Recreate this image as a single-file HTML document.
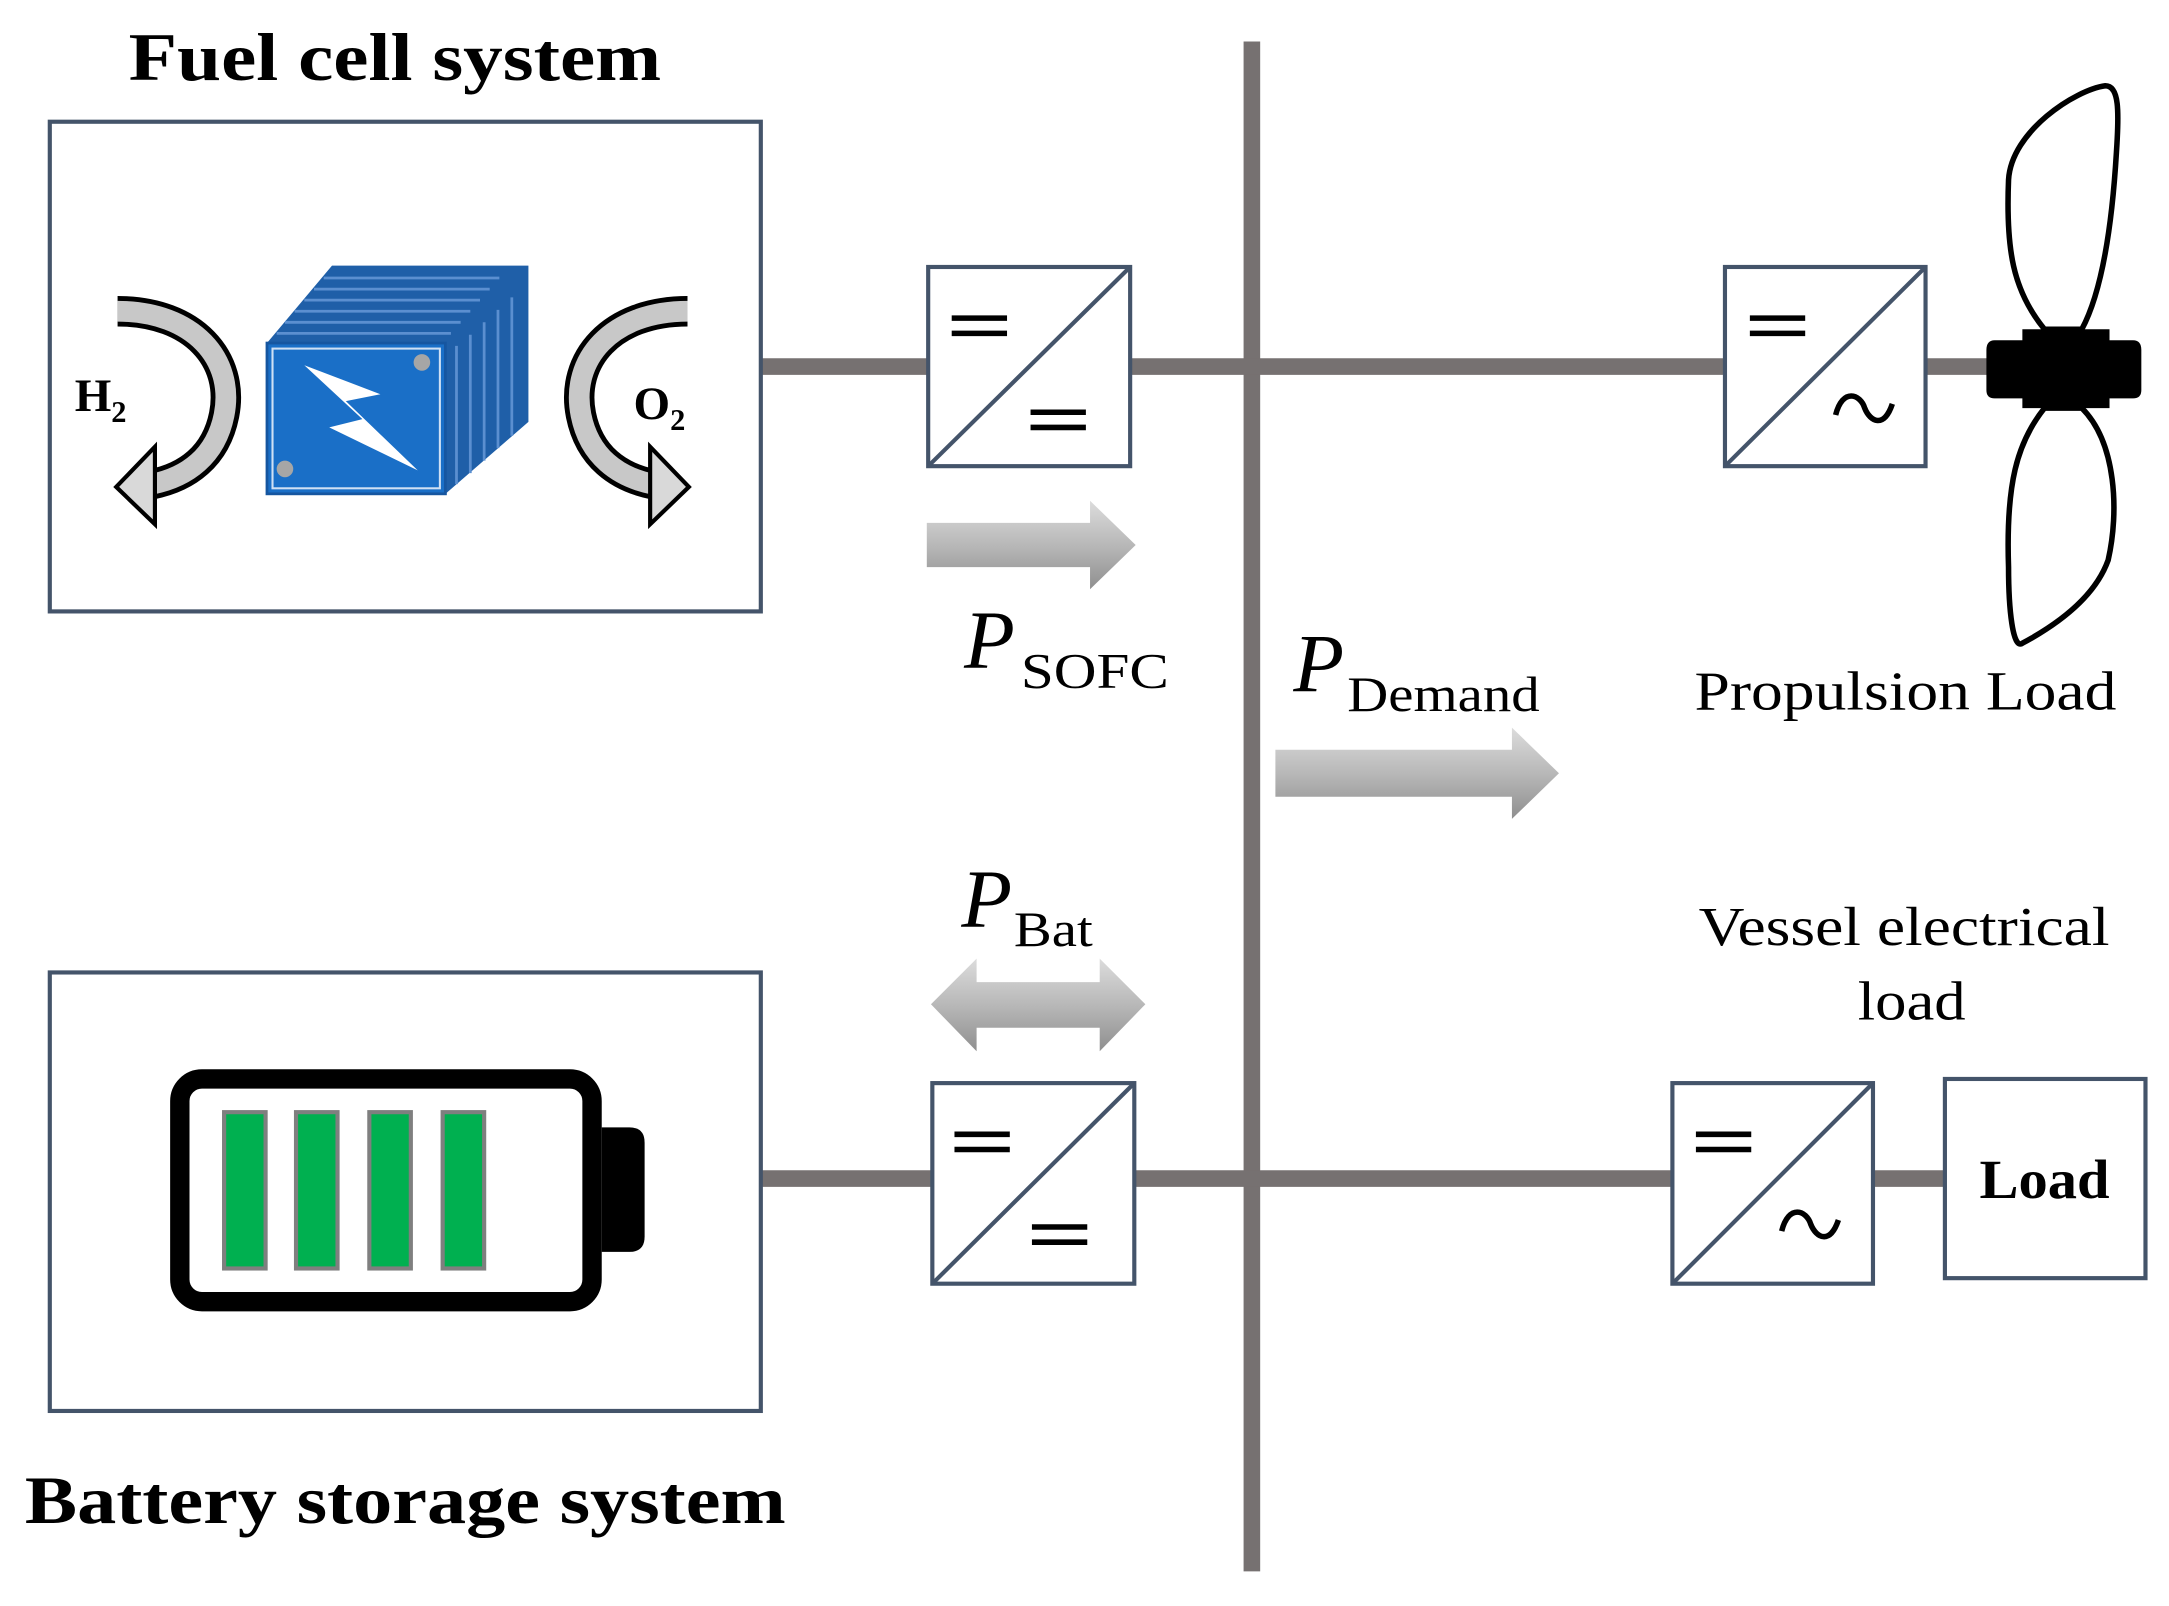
<!DOCTYPE html>
<html><head><meta charset="utf-8"><style>
html,body{margin:0;padding:0;background:#fff;}
svg{display:block;}
text{font-family:"Liberation Serif",serif;}
</style></head><body>
<svg width="2169" height="1606" viewBox="0 0 1568 1161" preserveAspectRatio="none" xmlns="http://www.w3.org/2000/svg">
<defs>
<linearGradient id="ga" x1="0" y1="0" x2="0" y2="1">
<stop offset="0" stop-color="#dcdcdc"/><stop offset="0.5" stop-color="#b8b8b8"/><stop offset="1" stop-color="#8f8f8f"/>
</linearGradient>
</defs>
<g stroke="#767171" stroke-width="12" fill="none">
<line x1="905" y1="30" x2="905" y2="1136"/>
<line x1="550" y1="265" x2="1440" y2="265"/>
<line x1="550" y1="852" x2="1406" y2="852"/>
</g>
<g fill="#fff" stroke="#44546a" stroke-width="3">
<rect x="36" y="88" width="514" height="354"/>
<rect x="36" y="703" width="514" height="317"/>
<rect x="671" y="193" width="146" height="144"/>
<rect x="1247" y="193" width="145" height="144"/>
<rect x="674" y="783" width="146" height="145"/>
<rect x="1209" y="783" width="145" height="145"/>
<rect x="1406" y="780" width="145" height="144"/>
</g>
<g stroke="#44546a" stroke-width="3">
<line x1="671" y1="337" x2="817" y2="193"/>
<line x1="1247" y1="337" x2="1392" y2="193"/>
<line x1="674" y1="928" x2="820" y2="783"/>
<line x1="1209" y1="928" x2="1354" y2="783"/>
</g>
<g stroke="#000" stroke-width="4">
<line x1="688" y1="230" x2="728" y2="230"/><line x1="688" y1="241" x2="728" y2="241"/>
<line x1="745" y1="298" x2="785" y2="298"/><line x1="745" y1="309" x2="785" y2="309"/>
<line x1="1265" y1="230" x2="1305" y2="230"/><line x1="1265" y1="241" x2="1305" y2="241"/>
<line x1="690" y1="820" x2="730" y2="820"/><line x1="690" y1="831" x2="730" y2="831"/>
<line x1="746" y1="887" x2="786" y2="887"/><line x1="746" y1="898" x2="786" y2="898"/>
<line x1="1226" y1="820" x2="1266" y2="820"/><line x1="1226" y1="831" x2="1266" y2="831"/>
</g>
<g stroke="#000" stroke-width="4" fill="none">
<path d="M1327,300 C1332,280 1345,285 1348,295 C1352,305 1362,310 1368,292"/>
<path d="M1288,890 C1293,870 1306,875 1309,885 C1313,895 1323,900 1329,882"/>
</g>
<text x="1431" y="866" font-size="40" font-weight="bold" textLength="94" lengthAdjust="spacingAndGlyphs">Load</text>
<g fill="none" stroke="#000" stroke-width="4">
<path d="M1478,238 C1455,210 1450,180 1452,130 C1454,95 1500,65 1522,62 C1532,62 1532,80 1530,110 C1527,160 1520,210 1505,238 Z"/>
<path d="M1478,295 C1458,320 1450,350 1452,410 C1452,440 1455,470 1462,465 C1490,450 1515,430 1524,405 C1532,370 1530,320 1505,295 Z"/>
</g>
<path d="M1442,246 L1462,246 L1462,238 L1525,238 L1525,246 L1542,246 Q1548,246 1548,253 L1548,282 Q1548,288 1542,288 L1525,288 L1525,295 L1462,295 L1462,288 L1442,288 Q1436,288 1436,282 L1436,253 Q1436,246 1442,246 Z" fill="#000"/>
<polygon points="670,378 788,378 788,362 821,394 788,426 788,410 670,410" fill="url(#ga)"/>
<polygon points="922,542 1093,542 1093,526 1127,559 1093,592 1093,576 922,576" fill="url(#ga)"/>
<polygon points="673,726 706,693 706,710 795,710 795,693 828,726 795,760 795,743 706,743 706,760" fill="url(#ga)"/>
<text x="93" y="58" font-size="49" font-weight="bold" textLength="385" lengthAdjust="spacingAndGlyphs">Fuel cell system</text>
<text x="18" y="1101" font-size="49" font-weight="bold" textLength="550" lengthAdjust="spacingAndGlyphs">Battery storage system</text>
<text x="697" y="483" font-size="60" font-style="italic">P</text>
<text x="738" y="497" font-size="36" textLength="107" lengthAdjust="spacingAndGlyphs">SOFC</text>
<text x="935" y="500" font-size="60" font-style="italic">P</text>
<text x="974" y="514" font-size="36" textLength="139" lengthAdjust="spacingAndGlyphs">Demand</text>
<text x="695" y="670" font-size="60" font-style="italic">P</text>
<text x="733" y="684" font-size="36" textLength="57" lengthAdjust="spacingAndGlyphs">Bat</text>
<text x="1225" y="513" font-size="40" textLength="305" lengthAdjust="spacingAndGlyphs">Propulsion Load</text>
<text x="1228" y="683" font-size="40" textLength="297" lengthAdjust="spacingAndGlyphs">Vessel electrical</text>
<text x="1343" y="737" font-size="40" textLength="78" lengthAdjust="spacingAndGlyphs">load</text>
<rect x="130" y="780" width="298" height="161" rx="16" fill="#fff" stroke="#000" stroke-width="14"/>
<path d="M435,815 L455,815 Q466,815 466,826 L466,894 Q466,905 455,905 L435,905 Z" fill="#000"/>
<g fill="#00b050" stroke="#7f7f7f" stroke-width="3">
<rect x="162" y="804" width="30" height="113"/>
<rect x="214" y="804" width="30" height="113"/>
<rect x="267" y="804" width="30" height="113"/>
<rect x="320" y="804" width="30" height="113"/>
</g>
<polygon points="193,248 240,192 382,192 382,305 322,357 322,248" fill="#1f5fa8"/>
<g stroke="#5b8fd0" stroke-width="2" fill="none">
<line x1="200" y1="241" x2="326" y2="241"/><line x1="206" y1="233" x2="333" y2="233"/>
<line x1="213" y1="225" x2="340" y2="225"/><line x1="220" y1="217" x2="347" y2="217"/>
<line x1="227" y1="209" x2="354" y2="209"/><line x1="234" y1="201" x2="361" y2="201"/>
<line x1="330" y1="250" x2="330" y2="350"/><line x1="340" y1="242" x2="340" y2="342"/>
<line x1="350" y1="233" x2="350" y2="333"/><line x1="360" y1="224" x2="360" y2="324"/>
<line x1="370" y1="215" x2="370" y2="315"/>
</g>
<rect x="193" y="248" width="129" height="109" fill="#1a6fc7" stroke="#1656a0" stroke-width="2"/>
<rect x="197" y="252" width="121" height="101" fill="none" stroke="#cfe0f4" stroke-width="1.5"/>
<polygon points="220,264 262,303 238,309 302,340 250,290 275,285" fill="#fff"/>
<circle cx="305" cy="262" r="6" fill="#a6a6a6"/>
<circle cx="206" cy="339" r="6" fill="#a6a6a6"/>
<g fill="none" stroke-linecap="butt">
<path d="M85,225 C140,225 170,260 162,300 C156,330 135,345 110,350" stroke="#000" stroke-width="22"/>
<path d="M85,225 C140,225 170,260 162,300 C156,330 135,345 110,350" stroke="#c8c8c8" stroke-width="15"/>
<path d="M497,225 C442,225 412,260 420,300 C426,330 447,345 472,350" stroke="#000" stroke-width="22"/>
<path d="M497,225 C442,225 412,260 420,300 C426,330 447,345 472,350" stroke="#c8c8c8" stroke-width="15"/>
</g>
<polygon points="84,352 112,323 112,379" fill="#d9d9d9" stroke="#000" stroke-width="3"/>
<polygon points="498,352 470,323 470,379" fill="#d9d9d9" stroke="#000" stroke-width="3"/>
<text x="54" y="297" font-size="34" font-weight="bold">H<tspan font-size="22" dy="8">2</tspan></text>
<text x="458" y="303" font-size="34" font-weight="bold">O<tspan font-size="22" dy="8">2</tspan></text>
</svg>
</body></html>
